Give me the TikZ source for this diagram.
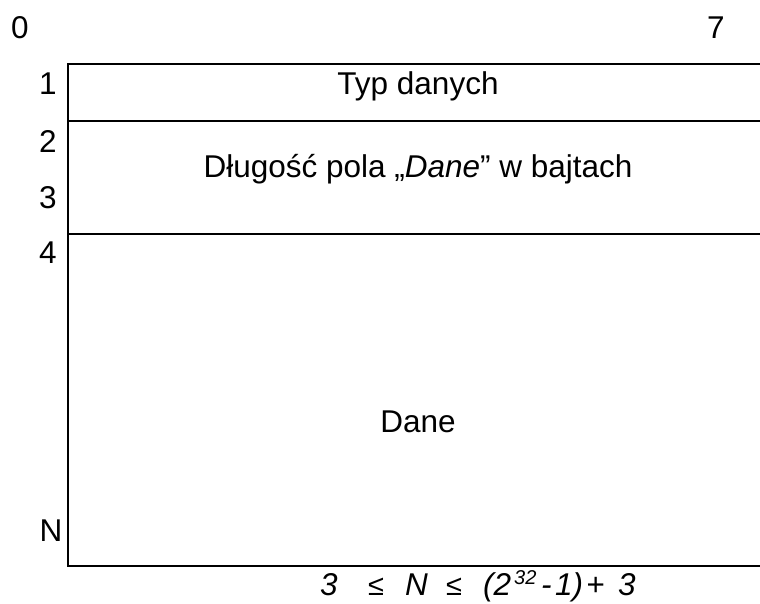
\documentclass[tikz,border=0pt]{standalone}
\usepackage{fontspec}
\setmainfont{Liberation Sans}
\begin{document}
\begin{tikzpicture}[x=1pt,y=-1pt,
  lbl/.style={anchor=base,inner sep=0pt,font=\fontsize{31.5}{36}\selectfont},
  fml/.style={anchor=base west,inner sep=0pt,font=\fontsize{31.5}{36}\selectfont\itshape},
  rel/.style={anchor=base west,inner sep=0pt,font=\fontsize{29}{34}\selectfont\upshape},
  frame/.style={line width=1.6pt}]
\useasboundingbox (0,0) rectangle (760,603);
\coordinate (tl) at (68,64);
\coordinate (bl) at (68,566);
\coordinate (r1) at (760,64);
\coordinate (l2) at (68,121);
\coordinate (r2) at (760,121);
\coordinate (l3) at (68,234);
\coordinate (r3) at (760,234);
\coordinate (br) at (760,566);
\draw[frame] (r1) -- (tl) -- (bl) -- (br);
\draw[frame] (l2) -- (r2);
\draw[frame] (l3) -- (r3);
\node[lbl] (b0) at (20,38) {0};
\node[lbl] (b7) at (716,38) {7};
\node[lbl] (n1) at (48,94) {1};
\node[lbl] (n2) at (48,152) {2};
\node[lbl] (n3) at (48,208) {3};
\node[lbl] (n4) at (48,263) {4};
\node[lbl] (nN) at (51,541) {N};
\node[lbl] (typ) at (418,94) {Typ danych};
\node[lbl] (dl) at (418,177) {Długość pola „\textit{Dane}” w bajtach};
\node[lbl] (dane) at (418,432) {Dane};
\node[fml] (f1) at (320,595) {3};
\node[rel] (f2) at (368,595) {≤};
\node[fml] (f3) at (405,595) {N};
\node[rel] (f4) at (446,595) {≤};
\node[fml] (f5) at (483,595) {(2};
\node[fml,font=\fontsize{20}{24}\selectfont\itshape] (f6) at (514,584) {32};
\node[fml] (f7) at (541,595) {-};
\node[fml] (f8) at (555,595) {1)};
\node[fml] (f9) at (586,595) {+};
\node[fml] (f10) at (618,595) {3};
\end{tikzpicture}
\end{document}
